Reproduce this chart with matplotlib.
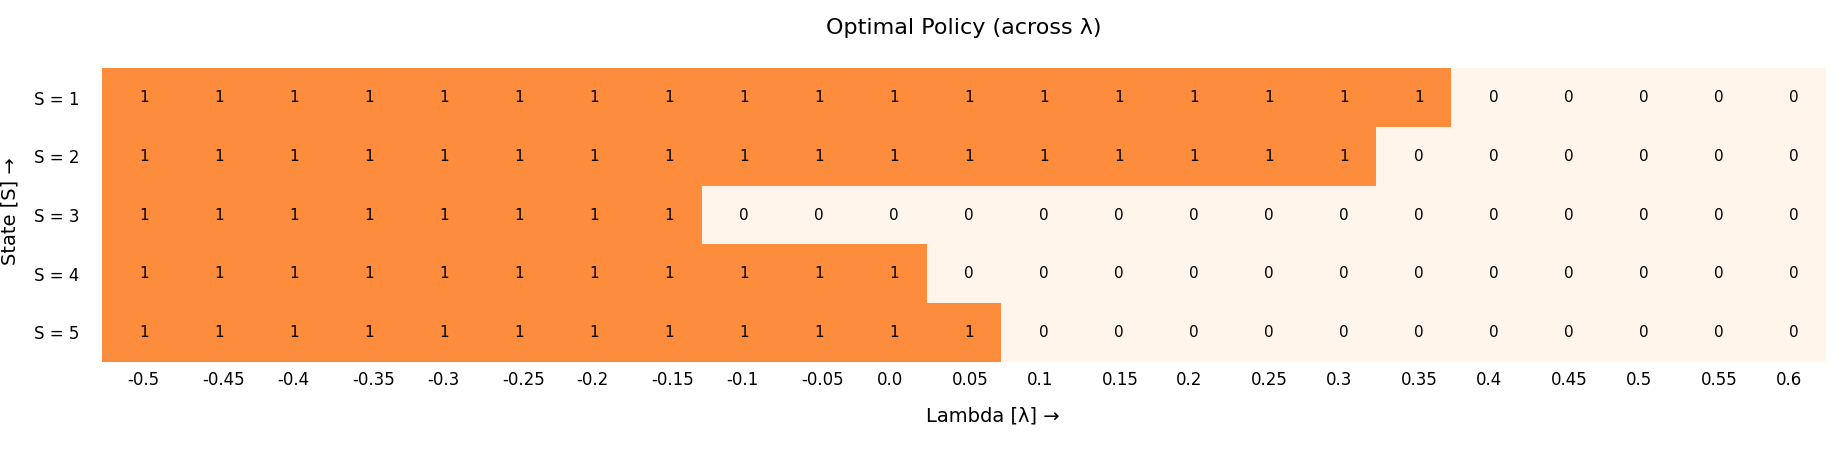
import numpy as np
import matplotlib.pyplot as plt
from matplotlib.colors import ListedColormap
from matplotlib.transforms import ScaledTranslation

# lambda values (x axis) and states (y axis)
lambdas = ["-0.5", "-0.45", "-0.4", "-0.35", "-0.3", "-0.25", "-0.2", "-0.15",
           "-0.1", "-0.05", "0.0", "0.05", "0.1", "0.15", "0.2", "0.25", "0.3",
           "0.35", "0.4", "0.45", "0.5", "0.55", "0.6"]
states = ["S = 1", "S = 2", "S = 3", "S = 4", "S = 5"]

# optimal action per state, per lambda
policy_s1 = [1, 1, 1, 1, 1, 1, 1, 1, 1, 1, 1, 1, 1, 1, 1, 1, 1, 1, 0, 0, 0, 0, 0]
policy_s2 = [1, 1, 1, 1, 1, 1, 1, 1, 1, 1, 1, 1, 1, 1, 1, 1, 1, 0, 0, 0, 0, 0, 0]
policy_s3 = [1, 1, 1, 1, 1, 1, 1, 1, 0, 0, 0, 0, 0, 0, 0, 0, 0, 0, 0, 0, 0, 0, 0]
policy_s4 = [1, 1, 1, 1, 1, 1, 1, 1, 1, 1, 1, 0, 0, 0, 0, 0, 0, 0, 0, 0, 0, 0, 0]
policy_s5 = [1, 1, 1, 1, 1, 1, 1, 1, 1, 1, 1, 1, 0, 0, 0, 0, 0, 0, 0, 0, 0, 0, 0]


def main() -> int:
    policy = np.array([policy_s1, policy_s2, policy_s3, policy_s4, policy_s5])
    n_rows, n_cols = policy.shape

    fig = plt.figure(figsize=(18.4, 4.5), dpi=100)
    ax = fig.add_axes([102 / 1840, 88.3 / 450, 1724 / 1840, 293.4 / 450])

    cmap = ListedColormap(["#fff5eb", "#fd8d3c"])
    ax.pcolormesh(policy, cmap=cmap, vmin=0, vmax=1)
    ax.set_xlim(0, n_cols)
    ax.set_ylim(n_rows, 0)

    for spine in ax.spines.values():
        spine.set_visible(False)

    # セル内の値
    shift = ScaledTranslation(0.05, 0, fig.dpi_scale_trans)
    for i in range(n_rows):
        for j in range(n_cols):
            ax.text(j + 0.5, i + 0.5, str(policy[i, j]), ha="center", va="center",
                    fontsize=11, color="black", transform=ax.transData + shift)

    ax.set_xticks(np.arange(n_cols) + 0.5)
    ax.set_xticklabels(lambdas, ha="left")
    ax.set_yticks(np.arange(n_rows) + 0.5)
    ax.set_yticklabels(states)
    ax.tick_params(axis="x", length=0, pad=6.5, labelsize=12)
    ax.tick_params(axis="y", length=0, pad=16, labelsize=12)

    tick_shift = ScaledTranslation(-0.125, 0, fig.dpi_scale_trans)
    for lbl in ax.get_xticklabels():
        lbl.set_transform(lbl.get_transform() + tick_shift)

    ax.set_title("Optimal Policy (across λ)", fontsize=16, pad=25)
    fig.text(993 / 1840, 28 / 450, "Lambda [λ] →", ha="center", va="baseline", fontsize=14)
    fig.text(16 / 1840, 239 / 450, "State [S] →", ha="center", va="baseline",
             rotation=90, rotation_mode="anchor", fontsize=14)

    fig.savefig("out.png", dpi=100)
    return 0


if __name__ == "__main__":
    raise SystemExit(main())
